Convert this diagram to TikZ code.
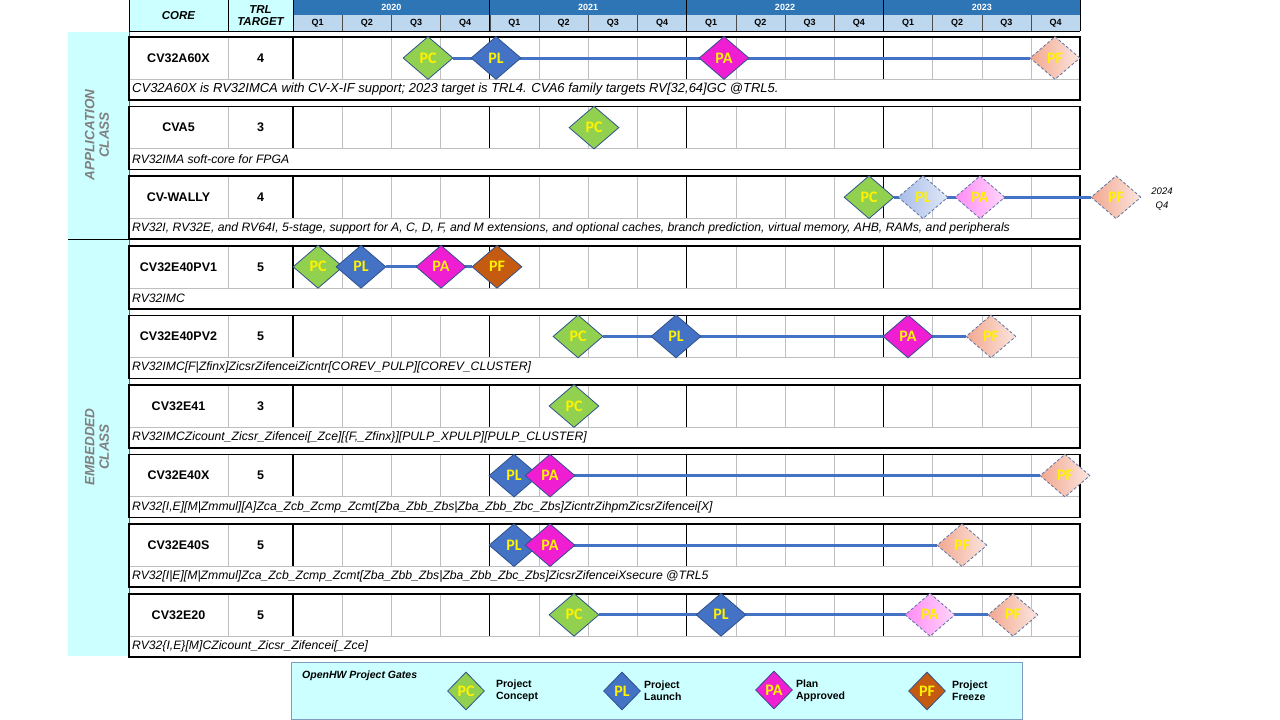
\documentclass[tikz,border=0pt]{standalone}
\usepackage{fontspec}
\setmainfont{Liberation Sans}
\newfontfamily\gatefont{Carlito}
\usetikzlibrary{shapes.geometric,positioning,calc}
\definecolor{YearBlue}{HTML}{2E75B6}
\definecolor{QuarterBlue}{HTML}{BDD7EE}
\definecolor{PaleCyan}{HTML}{CCFFFF}
\definecolor{GateBlue}{HTML}{4472C4}
\definecolor{GateGreen}{HTML}{92D050}
\definecolor{GateMagenta}{HTML}{F01ED2}
\definecolor{GateOrange}{HTML}{C55A11}
\definecolor{GateEdge}{HTML}{2F528F}
\definecolor{PlanBlue}{HTML}{A9BDE8}
\definecolor{PlanPink}{HTML}{FF8CF5}
\definecolor{PlanSalmon}{HTML}{F2A890}
\definecolor{GridGray}{HTML}{BFBFBF}
\definecolor{ClassGray}{HTML}{808080}
\definecolor{LegendEdge}{HTML}{7F9CBF}
\pgfdeclarelayer{bg}
\pgfdeclarelayer{mid}
\pgfsetlayers{bg,mid,main}

\begin{document}
\begin{tikzpicture}[x=1pt,y=-1pt,
  gate/.style={diamond,draw=GateEdge,line width=0.8pt,inner sep=0pt,
    minimum width=50pt,minimum height=43pt,text=yellow,
    font=\gatefont\fontsize{16}{16}\selectfont\bfseries},
  pc/.style={gate,fill=GateGreen},
  pl/.style={gate,fill=GateBlue},
  pa/.style={gate,fill=GateMagenta},
  pf/.style={gate,fill=GateOrange},
  planned/.style={dash pattern=on 3pt off 2pt,draw=GateEdge!80},
  plplan/.style={gate,planned,left color=PlanBlue,right color=PlanBlue!35},
  paplan/.style={gate,planned,left color=PlanPink,right color=PlanPink!35},
  pfplan/.style={gate,planned,left color=PlanSalmon,right color=PlanSalmon!30},
  smallgate/.style={minimum width=37pt,minimum height=38pt},
  timeline/.style={GateBlue,line width=3pt},
  gridline/.style={GridGray,line width=0.6pt},
  yearline/.style={black,line width=1.2pt},
  rowbox/.style={black,line width=1.5pt},
  corename/.style={font=\fontsize{12.5}{14}\selectfont\bfseries},
  coreinfo/.style={anchor=west,inner sep=0pt,font=\fontsize{#1}{14}\selectfont\itshape},
  hdrcell/.style={fill=PaleCyan,minimum height=31pt,inner sep=0pt,align=center,
    font=\fontsize{11.5}{12}\selectfont\bfseries\itshape},
  yeartext/.style={text=white,font=\fontsize{9}{10}\selectfont\bfseries},
  qtext/.style={font=\fontsize{9}{10}\selectfont\bfseries},
  classlabel/.style={rotate=90,text=ClassGray,align=center,
    font=\fontsize{13.5}{14.5}\selectfont\bfseries\itshape},
  legendtext/.style={align=left,inner sep=0pt,
    font=\fontsize{10.5}{12}\selectfont\bfseries}]
\useasboundingbox (0,0) rectangle (1280,720);

\begin{pgfonlayer}{bg}
\fill[white] (0,0) rectangle (1280,720);
% header
\fill[YearBlue] (293,0) rectangle (1080,15);
\fill[QuarterBlue] (293,15) rectangle (1080,31);
\node[hdrcell,minimum width=99pt] (corehdr) at (178.5,15.5) {CORE};
\node[hdrcell,minimum width=65pt] (trlhdr) at (260.5,15.5) {TRL\\TARGET};
\foreach \yr [count=\i from 0] in {2020,2021,2022,2023}
  \node[yeartext] (year\i) at ({293+196.8*\i+98.4},7.5) {\yr};
\foreach \q in {0,...,15}{
  \pgfmathtruncatemacro\qn{mod(\q,4)+1}
  \node[qtext] (quarter\q) at ({293+49.2*\q+24.6},23.5) {Q\qn};
  \draw[black!70,line width=0.6pt] ({293+49.2*\q},15) -- ++(0,16);
}
\foreach \q in {0,4,8,12,16}
  \draw[black,line width=1pt] ({293+49.2*\q},0) -- ++(0,31);
\draw[black,line width=1pt] (129,31) -- (1080,31);
\draw[black,line width=0.6pt] (129,0) -- (129,31) (228,0) -- (228,31);

% class band
\fill[PaleCyan] (68,32) rectangle (129,656);
\draw[black,line width=1pt] (68,239) -- (129,239);
\draw[black!60,line width=0.8pt] (129,32) -- (129,656);
\node[classlabel] (appclass) at (97,135) {APPLICATION\\CLASS};
\node[classlabel] (embclass) at (97,447) {EMBEDDED\\CLASS};

% core rows
\foreach \core/\trl/\isz/\info [count=\r from 0] in {
  CV32A60X/4/13/{CV32A60X is RV32IMCA with CV-X-IF support; 2023 target is TRL4. CVA6 family targets RV[32,64]GC @TRL5.},
  CVA5/3/12.2/{RV32IMA soft-core for FPGA},
  CV-WALLY/4/12.2/{RV32I, RV32E, and RV64I, 5-stage, support for A, C, D, F, and M extensions, and optional caches, branch prediction, virtual memory, AHB, RAMs, and peripherals},
  CV32E40PV1/5/12.2/{RV32IMC},
  CV32E40PV2/5/12.2/{RV32IMC[F|Zfinx]ZicsrZifenceiZicntr[COREV\_PULP][COREV\_CLUSTER]},
  CV32E41/3/12.2/{RV32IMCZicount\_Zicsr\_Zifencei[\_Zce][\{F,\_Zfinx\}][PULP\_XPULP][PULP\_CLUSTER]},
  CV32E40X/5/12.2/{RV32[I,E][M|Zmmul][A]Zca\_Zcb\_Zcmp\_Zcmt[Zba\_Zbb\_Zbs|Zba\_Zbb\_Zbc\_Zbs]ZicntrZihpmZicsrZifencei[X]},
  CV32E40S/5/12.2/{RV32[I|E][M|Zmmul]Zca\_Zcb\_Zcmp\_Zcmt[Zba\_Zbb\_Zbs|Zba\_Zbb\_Zbc\_Zbs]ZicsrZifenceiXsecure @TRL5},
  CV32E20/5/12.2/{RV32\{I,E\}[M]CZicount\_Zicsr\_Zifencei[\_Zce]}}
{
  \pgfmathsetmacro\rowtop{37+69.6*\r}
  \foreach \q in {1,2,3,5,6,7,9,10,11,13,14,15}
    \draw[gridline] ({293+49.2*\q},\rowtop) -- ++(0,42);
  \foreach \q in {4,8,12}
    \draw[yearline] ({293+49.2*\q},\rowtop) -- ++(0,42);
  \draw[gridline] (228,\rowtop) -- ++(0,42);
  \draw[yearline] (293,\rowtop) -- ++(0,42);
  \draw[gridline] (129,\rowtop+42) -- (1080,\rowtop+42);
  \draw[rowbox] (129,\rowtop) rectangle (1080,\rowtop+63);
  \node[corename] (core\r) at (178.5,\rowtop+21) {\core};
  \node[corename] (trl\r) at (260.5,\rowtop+21) {\trl};
  \node[coreinfo=\isz] (info\r) at (132,\rowtop+52.5) {\info};
}
\end{pgfonlayer}

% project gates
\node[pc] (r0pc) at (428,58) {PC};
\node[pl] (r0pl) at (496,58) {PL};
\node[pa] (r0pa) at (724,58) {PA};
\node[pfplan] (r0pf) at (1055,58) {PF};

\node[pc] (r1pc) at (594,127.6) {PC};

\node[pc] (r2pc) at (869,197.2) {PC};
\node[plplan] (r2pl) at (923,197.2) {PL};
\node[paplan] (r2pa) at (980,197.2) {PA};
\node[pfplan] (r2pf) at (1116,197.2) {PF};
\node[align=center,font=\fontsize{9.5}{14}\selectfont\itshape] (wallynote) at (1162,199) {2024\\Q4};

\node[pc] (r3pc) at (318,266.8) {PC};
\node[pl] (r3pl) at (361,266.8) {PL};
\node[pa] (r3pa) at (441,266.8) {PA};
\node[pf] (r3pf) at (497,266.8) {PF};

\node[pc] (r4pc) at (578,336.4) {PC};
\node[pl] (r4pl) at (676,336.4) {PL};
\node[pa] (r4pa) at (908,336.4) {PA};
\node[pfplan] (r4pf) at (991,336.4) {PF};

\node[pc] (r5pc) at (574,406) {PC};

\node[pl] (r6pl) at (514,475.6) {PL};
\node[pa] (r6pa) at (550,475.6) {PA};
\node[pfplan] (r6pf) at (1065,475.6) {PF};

\node[pl] (r7pl) at (514,545.2) {PL};
\node[pa] (r7pa) at (550,545.2) {PA};
\node[pfplan] (r7pf) at (962,545.2) {PF};

\node[pc] (r8pc) at (574,614.8) {PC};
\node[pl] (r8pl) at (721,614.8) {PL};
\node[paplan] (r8pa) at (930,614.8) {PA};
\node[pfplan] (r8pf) at (1013,614.8) {PF};

\begin{pgfonlayer}{mid}
\draw[timeline] (r0pc) -- (r0pf);
\draw[timeline] (r2pc) -- (r2pf);
\draw[timeline] (r3pl) -- (r3pf);
\draw[timeline] (r4pc) -- (r4pf);
\draw[timeline] (r6pl) -- (r6pf);
\draw[timeline] (r7pl) -- (r7pf);
\draw[timeline] (r8pc) -- (r8pf);
\end{pgfonlayer}

% legend
\node[draw=LegendEdge,line width=1pt,fill=PaleCyan,anchor=north west,
      minimum width=731pt,minimum height=57pt] (legend) at (291,662) {};
\node[anchor=west,inner sep=0pt,font=\fontsize{10.5}{12}\selectfont\bfseries\itshape]
  (legendtitle) at (302,676) {OpenHW Project Gates};
\node[pc,smallgate] (lgpc) at (466,691) {PC};
\node[pl,smallgate] (lgpl) at (622,691) {PL};
\node[pa,smallgate] (lgpa) at (774,690) {PA};
\node[pf,smallgate] (lgpf) at (927,691) {PF};
\node[legendtext,right=11pt of lgpc] (lgpctext) {Project\\Concept};
\node[legendtext,right=3pt of lgpl] (lgpltext) {Project\\Launch};
\node[legendtext,right=3pt of lgpa,yshift=-1pt] (lgpatext) {Plan\\Approved};
\node[legendtext,right=6pt of lgpf] (lgpftext) {Project\\Freeze};
\end{tikzpicture}
\end{document}
